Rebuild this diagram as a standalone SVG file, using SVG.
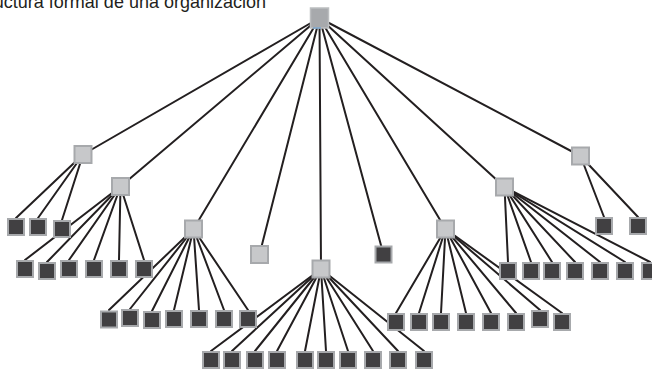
<svg xmlns="http://www.w3.org/2000/svg" width="652" height="371" viewBox="0 0 652 371">
<style>
.t{font-family:"Liberation Sans",Arial,sans-serif;font-size:18px;fill:#231f20}
.c line{stroke:#231f20;stroke-width:2;stroke-linecap:round}
.m rect{fill:#c7c8ca;stroke:#a7a9ac;stroke-width:2}
.l rect{fill:#414042;stroke:#a7a9ac;stroke-width:2}
.r rect{fill:#a7a9ac;stroke:#bcbec0;stroke-width:1.5}
</style>
<rect width="652" height="371" fill="#ffffff"/>
<text class="t" x="266" y="7.5" text-anchor="end">Estructura formal de una organización</text>
<g class="c" id="connectors">
<line x1="319.5" y1="18" x2="83" y2="154.5"/>
<line x1="319.5" y1="18" x2="120.5" y2="186.5"/>
<line x1="319.5" y1="18" x2="193.5" y2="229"/>
<line x1="319.5" y1="18" x2="259.5" y2="254.5"/>
<line x1="319.5" y1="18" x2="321" y2="269"/>
<line x1="319.5" y1="18" x2="383.5" y2="254.5"/>
<line x1="319.5" y1="18" x2="445.5" y2="229"/>
<line x1="319.5" y1="18" x2="504.5" y2="187"/>
<line x1="319.5" y1="18" x2="580.5" y2="156"/>
<line x1="83" y1="154.5" x2="16" y2="218"/>
<line x1="83" y1="154.5" x2="38" y2="218"/>
<line x1="83" y1="154.5" x2="62" y2="220"/>
<line x1="120.5" y1="186.5" x2="25" y2="260"/>
<line x1="120.5" y1="186.5" x2="47" y2="262"/>
<line x1="120.5" y1="186.5" x2="69" y2="260"/>
<line x1="120.5" y1="186.5" x2="94" y2="260"/>
<line x1="120.5" y1="186.5" x2="119" y2="260"/>
<line x1="120.5" y1="186.5" x2="144" y2="260"/>
<line x1="193.5" y1="229" x2="109" y2="310"/>
<line x1="193.5" y1="229" x2="130" y2="309"/>
<line x1="193.5" y1="229" x2="152" y2="311"/>
<line x1="193.5" y1="229" x2="174" y2="310"/>
<line x1="193.5" y1="229" x2="199" y2="310"/>
<line x1="193.5" y1="229" x2="224" y2="310"/>
<line x1="193.5" y1="229" x2="248" y2="310"/>
<line x1="321" y1="269" x2="211" y2="351"/>
<line x1="321" y1="269" x2="232" y2="351"/>
<line x1="321" y1="269" x2="255" y2="351"/>
<line x1="321" y1="269" x2="277" y2="351"/>
<line x1="321" y1="269" x2="305" y2="351"/>
<line x1="321" y1="269" x2="326" y2="351"/>
<line x1="321" y1="269" x2="348" y2="351"/>
<line x1="321" y1="269" x2="373" y2="351"/>
<line x1="321" y1="269" x2="398" y2="351"/>
<line x1="321" y1="269" x2="424" y2="351"/>
<line x1="445.5" y1="229" x2="396" y2="313"/>
<line x1="445.5" y1="229" x2="419" y2="313"/>
<line x1="445.5" y1="229" x2="441" y2="313"/>
<line x1="445.5" y1="229" x2="466" y2="313"/>
<line x1="445.5" y1="229" x2="491" y2="313"/>
<line x1="445.5" y1="229" x2="516" y2="313"/>
<line x1="445.5" y1="229" x2="540" y2="310"/>
<line x1="445.5" y1="229" x2="562" y2="313"/>
<line x1="504.5" y1="187" x2="508" y2="262"/>
<line x1="504.5" y1="187" x2="531" y2="262"/>
<line x1="504.5" y1="187" x2="552" y2="262"/>
<line x1="504.5" y1="187" x2="575" y2="262"/>
<line x1="504.5" y1="187" x2="600" y2="262"/>
<line x1="504.5" y1="187" x2="625" y2="262"/>
<line x1="504.5" y1="187" x2="650" y2="262"/>
<line x1="580.5" y1="156" x2="604" y2="217"/>
<line x1="580.5" y1="156" x2="638" y2="217"/>
</g>
<g class="r" id="root"><rect x="310.5" y="8" width="18" height="20"/><line x1="313" y1="28" x2="321" y2="28" stroke="#5b9bd5" stroke-width="1"/></g>
<g class="m">
<g id="mA"><rect x="74.5" y="146" width="17" height="17"/></g>
<g id="mB"><rect x="112" y="178" width="17" height="17"/></g>
<g id="mC"><rect x="185" y="220.5" width="17" height="17"/></g>
<g id="mD"><rect x="251" y="246" width="17" height="17"/></g>
<g id="mE"><rect x="312.5" y="260.5" width="17" height="17"/></g>
<g id="mG"><rect x="437" y="220.5" width="17" height="17"/></g>
<g id="mH"><rect x="496" y="178.5" width="17" height="17"/></g>
<g id="mI"><rect x="572" y="147.5" width="17" height="17"/></g>
</g>
<g class="l">
<g id="F"><rect x="375.5" y="246.5" width="16" height="16"/></g>
<g id="A1"><rect x="8" y="219" width="16" height="16"/></g>
<g id="A2"><rect x="30" y="219" width="16" height="16"/></g>
<g id="A3"><rect x="54" y="221" width="16" height="16"/></g>
<g id="B1"><rect x="17" y="261" width="16" height="16"/></g>
<g id="B2"><rect x="39" y="263" width="16" height="16"/></g>
<g id="B3"><rect x="61" y="261" width="16" height="16"/></g>
<g id="B4"><rect x="86" y="261" width="16" height="16"/></g>
<g id="B5"><rect x="111" y="261" width="16" height="16"/></g>
<g id="B6"><rect x="136" y="261" width="16" height="16"/></g>
<g id="C1"><rect x="101" y="311.5" width="16" height="16"/></g>
<g id="C2"><rect x="122" y="310" width="16" height="16"/></g>
<g id="C3"><rect x="144" y="312" width="16" height="16"/></g>
<g id="C4"><rect x="166" y="311" width="16" height="16"/></g>
<g id="C5"><rect x="191" y="311" width="16" height="16"/></g>
<g id="C6"><rect x="216" y="311" width="16" height="16"/></g>
<g id="C7"><rect x="240" y="311" width="16" height="16"/></g>
<g id="E1"><rect x="203" y="352" width="16" height="16"/></g>
<g id="E2"><rect x="224" y="352" width="16" height="16"/></g>
<g id="E3"><rect x="247" y="352" width="16" height="16"/></g>
<g id="E4"><rect x="269" y="352" width="16" height="16"/></g>
<g id="E5"><rect x="297" y="352" width="16" height="16"/></g>
<g id="E6"><rect x="318" y="352" width="16" height="16"/></g>
<g id="E7"><rect x="340" y="352" width="16" height="16"/></g>
<g id="E8"><rect x="365" y="352" width="16" height="16"/></g>
<g id="E9"><rect x="390" y="352" width="16" height="16"/></g>
<g id="E10"><rect x="416" y="352" width="16" height="16"/></g>
<g id="G1"><rect x="388" y="314" width="16" height="16"/></g>
<g id="G2"><rect x="411" y="314" width="16" height="16"/></g>
<g id="G3"><rect x="433" y="314" width="16" height="16"/></g>
<g id="G4"><rect x="458" y="314" width="16" height="16"/></g>
<g id="G5"><rect x="483" y="314" width="16" height="16"/></g>
<g id="G6"><rect x="508" y="314" width="16" height="16"/></g>
<g id="G7"><rect x="532" y="311" width="16" height="16"/></g>
<g id="G8"><rect x="554" y="314" width="16" height="16"/></g>
<g id="H1"><rect x="500" y="263" width="16" height="16"/></g>
<g id="H2"><rect x="523" y="263" width="16" height="16"/></g>
<g id="H3"><rect x="544" y="263" width="16" height="16"/></g>
<g id="H4"><rect x="567" y="263" width="16" height="16"/></g>
<g id="H5"><rect x="592" y="263" width="16" height="16"/></g>
<g id="H6"><rect x="617" y="263" width="16" height="16"/></g>
<g id="H7"><rect x="642" y="263" width="16" height="16"/></g>
<g id="I1"><rect x="596" y="218" width="16" height="16"/></g>
<g id="I2"><rect x="630" y="218" width="16" height="16"/></g>
</g>
</svg>
